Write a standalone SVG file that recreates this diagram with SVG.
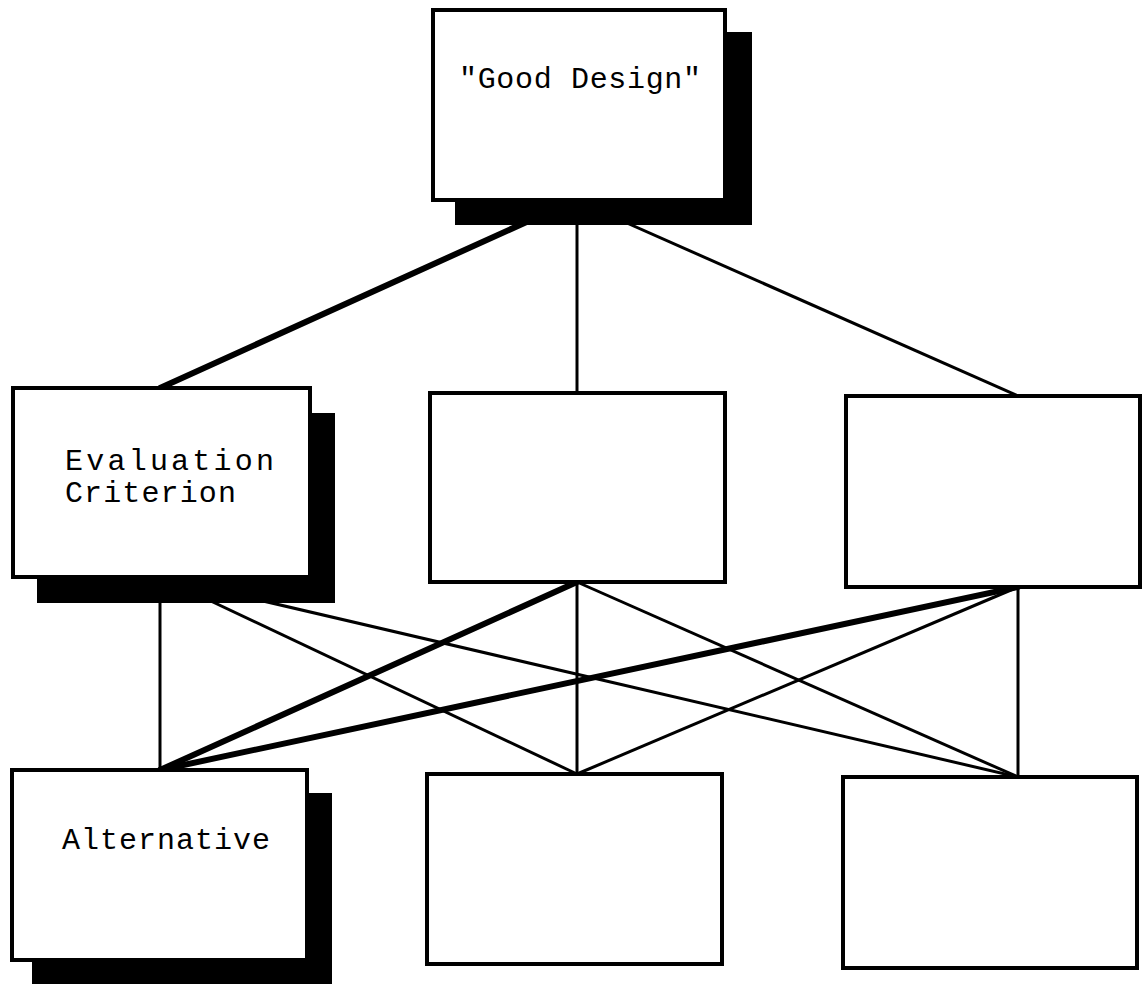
<svg xmlns="http://www.w3.org/2000/svg" width="1143" height="984" viewBox="0 0 1143 984">
<style>
.box{fill:#fff;stroke:#000;stroke-width:4}
.shadow{fill:#000}
.thin{stroke:#000;stroke-width:3;fill:none}
.thick{stroke:#000;stroke-width:6;fill:none;stroke-linecap:round}
.lbl{font-family:"Liberation Mono","DejaVu Sans Mono",monospace;font-size:30px;fill:#000}
</style>
<rect width="1143" height="984" fill="#fff"/>
<g id="connectors">
<line class="thick" x1="575" y1="200" x2="160" y2="388"/>
<line class="thin" x1="577" y1="200" x2="577" y2="393"/>
<line class="thin" x1="575" y1="200" x2="1018" y2="396"/>
<line class="thin" x1="160" y1="577" x2="160" y2="770"/>
<line class="thin" x1="160" y1="577" x2="577" y2="774"/>
<line class="thin" x1="160" y1="577" x2="1018" y2="777"/>
<line class="thick" x1="577" y1="582" x2="160" y2="770"/>
<line class="thin" x1="577" y1="582" x2="577" y2="774"/>
<line class="thin" x1="577" y1="582" x2="1018" y2="777"/>
<line class="thick" x1="1018" y1="587" x2="160" y2="770"/>
<line class="thin" x1="1018" y1="587" x2="577" y2="774"/>
<line class="thin" x1="1018" y1="587" x2="1018" y2="777"/>
</g>
<g id="goal">
<rect class="shadow" x="455" y="32" width="297" height="193"/>
<rect class="box" x="433" y="10" width="292" height="190"/>
<text class="lbl" x="459" y="88" textLength="242" lengthAdjust="spacing">"Good Design"</text>
</g>
<g id="criterion1">
<rect class="shadow" x="37" y="413" width="298" height="190"/>
<rect class="box" x="13" y="388" width="297" height="189"/>
<text class="lbl" x="65" y="470" textLength="209" lengthAdjust="spacing">Evaluation</text>
<text class="lbl" x="65" y="502" textLength="171" lengthAdjust="spacing">Criterion</text>
</g>
<g id="criterion2">
<rect class="box" x="430" y="393" width="295" height="189"/>
</g>
<g id="criterion3">
<rect class="box" x="846" y="396" width="294" height="191"/>
</g>
<g id="alternative1">
<rect class="shadow" x="32" y="793" width="300" height="191"/>
<rect class="box" x="12" y="770" width="295" height="190"/>
<text class="lbl" x="62" y="849" textLength="208" lengthAdjust="spacing">Alternative</text>
</g>
<g id="alternative2">
<rect class="box" x="427" y="774" width="295" height="190"/>
</g>
<g id="alternative3">
<rect class="box" x="843" y="777" width="294" height="191"/>
</g>
</svg>
